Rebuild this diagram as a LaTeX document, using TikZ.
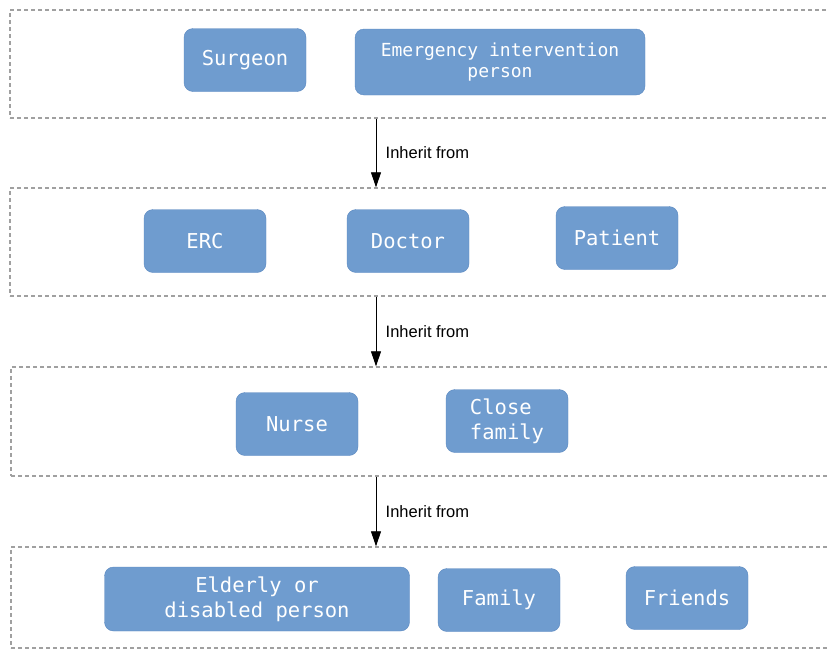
\documentclass[tikz,border=0pt]{standalone}
\usepackage{fontspec}
\setmainfont{Liberation Sans}
\newfontfamily\rolemono{DejaVu Sans Mono}
\usetikzlibrary{arrows.meta, positioning}
\usepackage{xcolor}
\definecolor{roleFill}{HTML}{6F9CCF}
\definecolor{roleEdge}{HTML}{5A88C0}
\definecolor{frameGray}{HTML}{A0A0A0}

\begin{document}
\begin{tikzpicture}[x=1pt, y=-1pt,
  role/.style={rectangle, rounded corners=9pt, draw=roleEdge, fill=roleFill, text=white,
    font=\rolemono\fontsize{20.5}{25}\selectfont, align=center,
    minimum width=122pt, minimum height=63pt, inner sep=2pt},
  tier/.style={rectangle, draw=frameGray, line width=1.4pt, dash pattern=on 4pt off 3pt,
    minimum width=830pt},
  inherit/.style={-{Triangle[length=15pt, width=10pt]}, line width=0.8pt},
  inlabel/.style={right=6pt, font=\fontsize{16.5}{19}\selectfont}]
\clip (0,0) rectangle (827,651);

% Tiers (dashed frames run off the right edge)
\node[tier, minimum height=108pt] (tier1) at (425,64) {};
\node[tier, minimum height=108pt] (tier2) at (425,242) {};
\node[tier, minimum height=109pt] (tier3) at (426,421.5) {};
\node[tier, minimum height=101pt] (tier4) at (426,597.5) {};

% Tier 1
\node[role] (surgeon) at (245,60) {Surgeon};
\node[role, minimum width=290pt, minimum height=66pt, font=\rolemono\fontsize{18}{21}\selectfont]
  (emergency) at (500,62) {Emergency intervention\\person};

% Tier 2
\node[role] (erc) at (205,241) {ERC};
\node[role] (doctor) at (408,241) {Doctor};
\node[role] (patient) at (617,238) {Patient};

% Tier 3
\node[role] (nurse) at (297,424) {Nurse};
\node[role, align=left] (close) at (507,421) {Close\\family};

% Tier 4
\node[role, minimum width=305pt, minimum height=64pt] (elderly) at (257,599) {Elderly or\\disabled person};
\node[role] (family) at (499,600) {Family};
\node[role] (friends) at (687,598) {Friends};

% Inheritance arrows
\coordinate (axis) at (376,0);
\draw[inherit] (tier1.south -| axis) -- (tier2.north -| axis) node[midway, inlabel] {Inherit from};
\draw[inherit] (tier2.south -| axis) -- (tier3.north -| axis) node[midway, inlabel] {Inherit from};
\draw[inherit] (tier3.south -| axis) -- (tier4.north -| axis) node[midway, inlabel] {Inherit from};
\end{tikzpicture}
\end{document}
